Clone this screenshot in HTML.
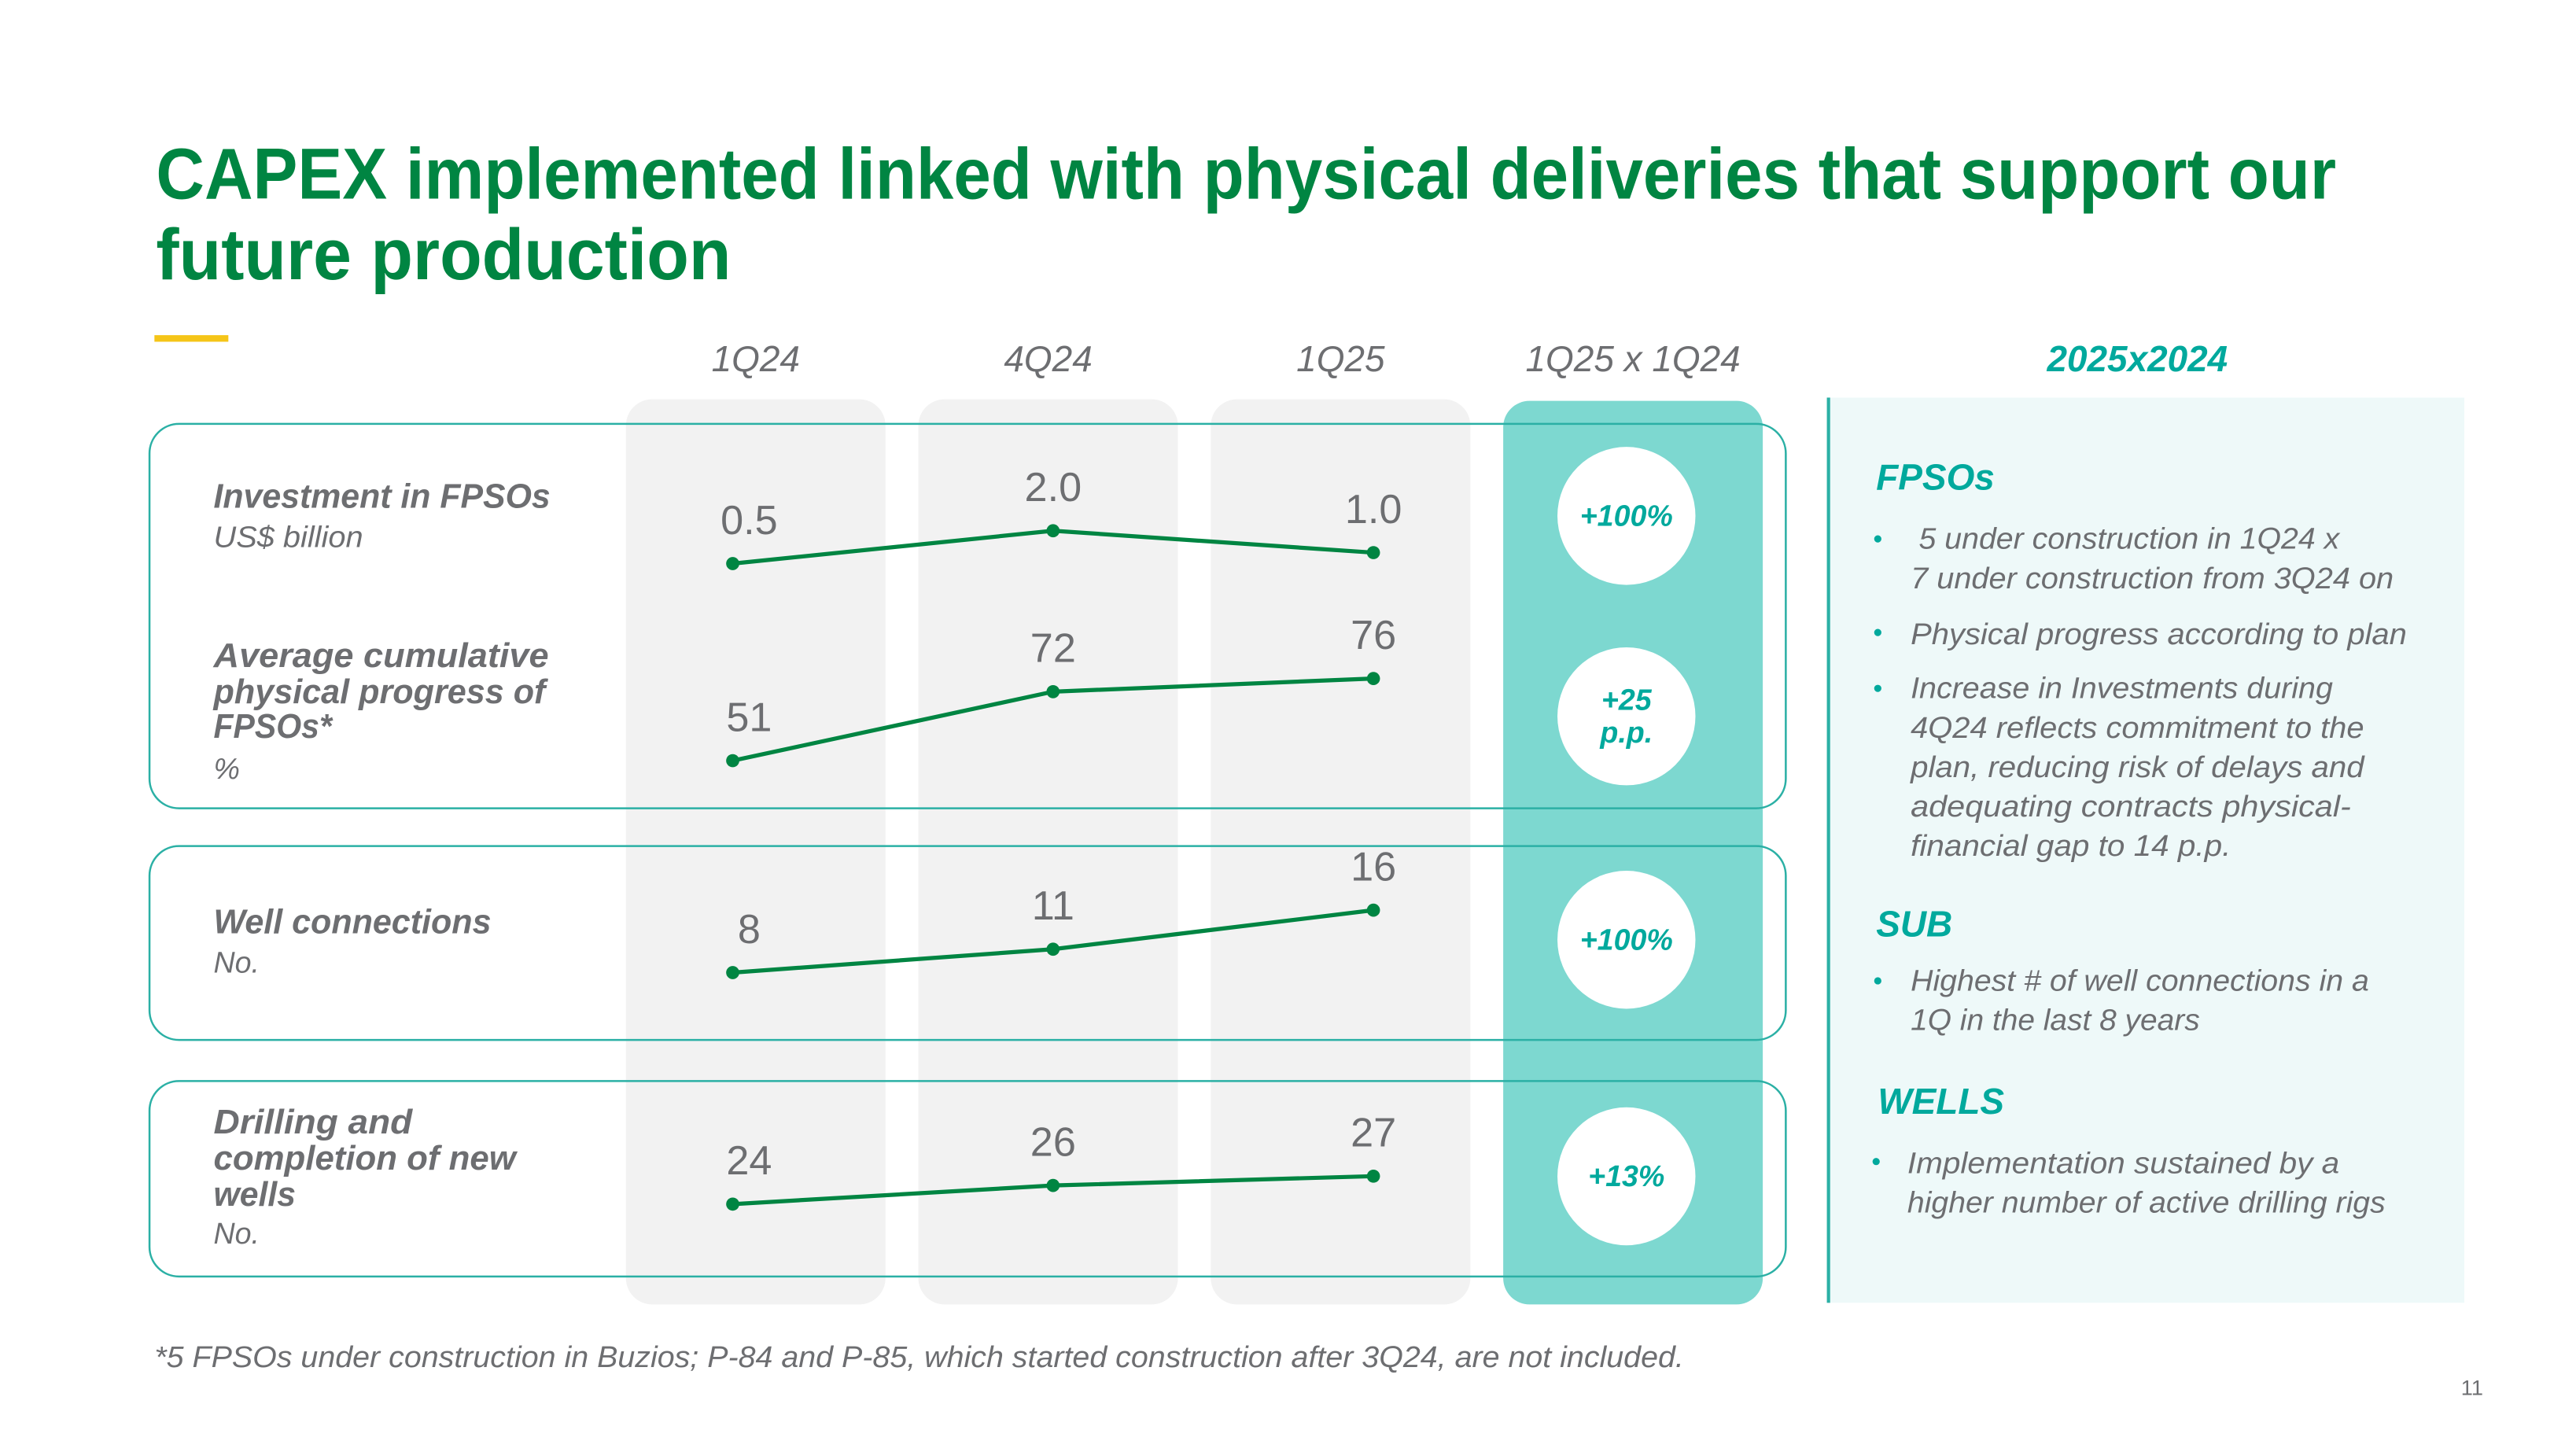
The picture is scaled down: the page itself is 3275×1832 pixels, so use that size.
<!DOCTYPE html>
<html><head><meta charset="utf-8"><style>
html,body{margin:0;padding:0;background:#fff;}
svg{display:block;}
text{font-family:"Liberation Sans",sans-serif;}
.g{fill:#6d6e71;}
.it{font-style:italic;}
.b{font-weight:bold;}
.t{fill:#00a99d;}
</style></head><body>
<svg id="chart" xmlns="http://www.w3.org/2000/svg" width="3275" height="1832" viewBox="0 0 1568 877.1">
<rect width="1568" height="877.1" fill="#fff"/>
<text x="95" y="121" font-size="44" font-weight="bold" fill="#008542" textLength="1327" lengthAdjust="spacingAndGlyphs">CAPEX implemented linked with physical deliveries that support our</text>
<text x="95" y="170" font-size="44" font-weight="bold" fill="#008542" textLength="350" lengthAdjust="spacingAndGlyphs">future production</text>
<rect x="94" y="204" width="45" height="4" fill="#f5c518"/>
<g id="cols"></g>
<g id="heads"></g>
<g id="boxes"></g>
<g id="labels">
<text class="g it b" x="130" y="309" font-size="21" textLength="205" lengthAdjust="spacingAndGlyphs">Investment in FPSOs</text>
<text class="g it" x="130" y="333" font-size="18" textLength="91" lengthAdjust="spacingAndGlyphs">US$ billion</text>
<text class="g it b" x="130" y="406" font-size="21" textLength="204" lengthAdjust="spacingAndGlyphs">Average cumulative</text>
<text class="g it b" x="130" y="428" font-size="21" textLength="202" lengthAdjust="spacingAndGlyphs">physical progress of</text>
<text class="g it b" x="130" y="449" font-size="21" textLength="72" lengthAdjust="spacingAndGlyphs">FPSOs*</text>
<text class="g it" x="130" y="474" font-size="18">%</text>
<text class="g it b" x="130" y="568" font-size="21" textLength="169" lengthAdjust="spacingAndGlyphs">Well connections</text>
<text class="g it" x="130" y="592" font-size="18">No.</text>
<text class="g it b" x="130" y="690" font-size="21" textLength="121" lengthAdjust="spacingAndGlyphs">Drilling and</text>
<text class="g it b" x="130" y="712" font-size="21" textLength="184" lengthAdjust="spacingAndGlyphs">completion of new</text>
<text class="g it b" x="130" y="734" font-size="21" textLength="50" lengthAdjust="spacingAndGlyphs">wells</text>
<text class="g it" x="130" y="757" font-size="18">No.</text>
</g>
<g id="marks"></g>
<g id="badges"></g>
<g>
<rect x="1113" y="242" width="387" height="551" fill="#eef9f9"/>
<rect x="1112" y="242" width="2" height="551" fill="#2bb0a5"/>
<text class="t it b" x="1246" y="226" font-size="22" textLength="110" lengthAdjust="spacingAndGlyphs">2025x2024</text>
<text class="t it b" x="1142" y="298" font-size="22">FPSOs</text>
<text class="t it b" x="1142" y="570" font-size="22">SUB</text>
<text class="t it b" x="1143" y="678" font-size="22">WELLS</text>
<g font-size="18" class="g it">
<text x="1168" y="334" textLength="256" lengthAdjust="spacingAndGlyphs">5 under construction in 1Q24 x</text>
<text x="1163" y="358" textLength="294" lengthAdjust="spacingAndGlyphs">7 under construction from 3Q24 on</text>
<text x="1163" y="392" textLength="302" lengthAdjust="spacingAndGlyphs">Physical progress according to plan</text>
<text x="1163" y="425" textLength="257" lengthAdjust="spacingAndGlyphs">Increase in Investments during</text>
<text x="1163" y="449" textLength="276" lengthAdjust="spacingAndGlyphs">4Q24 reflects commitment to the</text>
<text x="1163" y="473" textLength="276" lengthAdjust="spacingAndGlyphs">plan, reducing risk of delays and</text>
<text x="1163" y="497" textLength="268" lengthAdjust="spacingAndGlyphs">adequating contracts physical-</text>
<text x="1163" y="521" textLength="195" lengthAdjust="spacingAndGlyphs">financial gap to 14 p.p.</text>
<text x="1163" y="603" textLength="279" lengthAdjust="spacingAndGlyphs">Highest # of well connections in a</text>
<text x="1163" y="627" textLength="176" lengthAdjust="spacingAndGlyphs">1Q in the last 8 years</text>
<text x="1161" y="714" textLength="263" lengthAdjust="spacingAndGlyphs">Implementation sustained by a</text>
<text x="1161" y="738" textLength="291" lengthAdjust="spacingAndGlyphs">higher number of active drilling rigs</text>
</g>
<g fill="#00a99d">
<circle cx="1143" cy="328" r="2.2"/>
<circle cx="1143" cy="385" r="2.2"/>
<circle cx="1143" cy="419" r="2.2"/>
<circle cx="1143" cy="597" r="2.2"/>
<circle cx="1142" cy="707" r="2.2"/>
</g>
</g>
<text class="g it" x="94" y="832" font-size="18" textLength="931" lengthAdjust="spacingAndGlyphs">*5 FPSOs under construction in Buzios; P-84 and P-85, which started construction after 3Q24, are not included.</text>
<text class="g" x="1498" y="849" font-size="13">11</text>
</svg>
<script>
const categories = ["1Q24", "4Q24", "1Q25"];
const compareLabel = "1Q25 x 1Q24";
const investmentValues = [0.5, 2.0, 1.0];
const investmentLabels = ["0.5", "2.0", "1.0"];
const progressValues = [51, 72, 76];
const progressLabels = ["51", "72", "76"];
const wellValues = [8, 11, 16];
const wellLabels = ["8", "11", "16"];
const drillingValues = [24, 26, 27];
const drillingLabels = ["24", "26", "27"];
const changeLabels = [["+100%"], ["+25", "p.p."], ["+100%"], ["+13%"]];

const NS = "http://www.w3.org/2000/svg";
function mk(tag, attrs, parent){ const e = document.createElementNS(NS, tag); for (const k in attrs) e.setAttribute(k, attrs[k]); parent.appendChild(e); return e; }
const colX = i => 460 + i * 178;          // column center
const pointX = i => 446 + i * 195;        // point x
const rows = [
  {vals: investmentValues, labs: investmentLabels, y: v => 349.7 - v * 13.33},
  {vals: progressValues, labs: progressLabels, y: v => 565 - v * 2},
  {vals: wellValues, labs: wellLabels, y: v => 630 - v * 4.75},
  {vals: drillingValues, labs: drillingLabels, y: v => 869 - v * 5.67}
];

const cols = document.getElementById('cols');
for (let i = 0; i < 3; i++) {
  const r = mk('rect', {x: colX(i) - 79, y: 243, width: 158, height: 551, rx: 16, fill: '#f2f2f2'}, cols);
  
  
}
const tc = mk('rect', {x: 915, y: 244, width: 158, height: 550, rx: 16, fill: '#7dd8d0'}, cols);



const heads = document.getElementById('heads');
categories.concat([compareLabel]).forEach((c, i) => {
  const t = mk('text', {x: colX(i), y: 226, 'text-anchor': 'middle', 'font-size': 22, 'font-style': 'italic', fill: '#6d6e71'}, heads);
  t.textContent = c;
  
  
});

const boxes = document.getElementById('boxes');
[[258, 234], [515, 118], [658, 119]].forEach(b => {
  const r = mk('rect', {x: 91, y: b[0], width: 996, height: b[1], rx: 18, fill: 'none', stroke: '#2bb0a5', 'stroke-width': 1.2}, boxes);
  
  
});

const marks = document.getElementById('marks');
rows.forEach((row, ri) => {
  const pts = row.vals.map((v, i) => [pointX(i), row.y(v)]);
  const pl = mk('polyline', {points: pts.map(p => p.join(',')).join(' '), fill: 'none', stroke: '#008542', 'stroke-width': 2.5}, marks);
  
  
  pts.forEach((p, i) => {
    const c = mk('circle', {cx: p[0], cy: p[1], r: 4, fill: '#008542'}, marks);
    
    
    const t = mk('text', {x: p[0] + (i === 0 ? 10 : 0), y: p[1] - 18, 'text-anchor': 'middle', 'font-size': 25, fill: '#6d6e71'}, marks);
    t.textContent = row.labs[i];
    
    
  });
});

const badges = document.getElementById('badges');
[314, 436, 572, 716].forEach((cy, i) => {
  const c = mk('circle', {cx: 990, cy: cy, r: 42, fill: '#fff'}, badges);
  
  
  const lines = changeLabels[i];
  lines.forEach((l, j) => {
    const t = mk('text', {x: 990, y: cy + 6 + (j - (lines.length - 1) / 2) * 20, 'text-anchor': 'middle', 'font-size': 18, 'font-weight': 'bold', 'font-style': 'italic', fill: '#00a99d'}, badges);
    t.textContent = l;
    
    
  });
});
</script>
</body></html>
